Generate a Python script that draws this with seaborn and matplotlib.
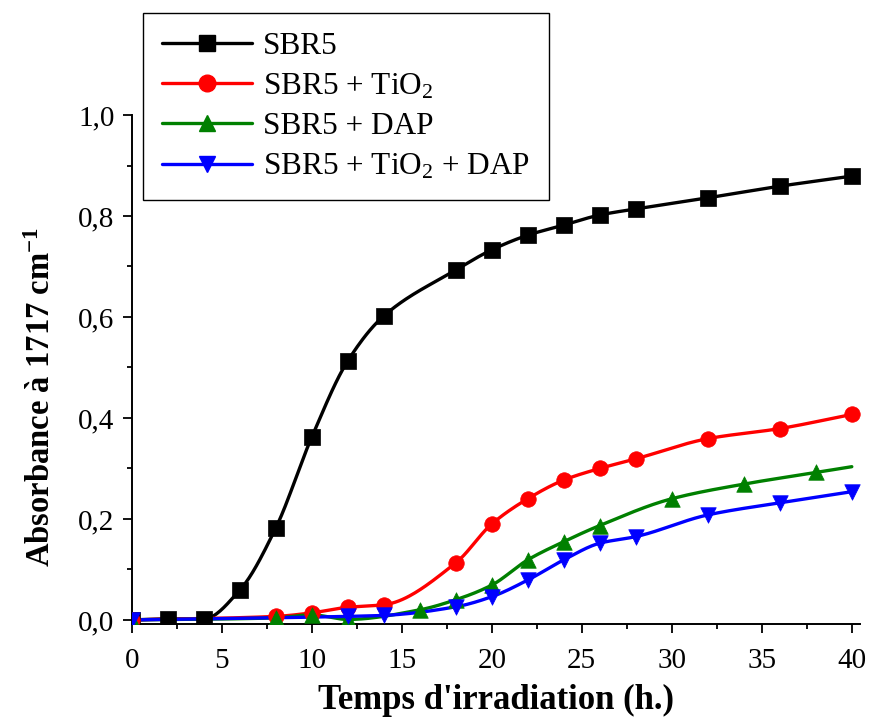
import numpy as np
import pandas as pd
import matplotlib
matplotlib.use("Agg")
import matplotlib.pyplot as plt
from matplotlib.lines import Line2D
import seaborn as sns

# ---------------- data ----------------
x_sbr5 = [0, 2, 4, 6, 8, 10, 12, 14, 18, 20, 22, 24, 26, 28, 32, 36, 40]
y_sbr5 = [0.0, 0.002, 0.002, 0.059, 0.182, 0.362, 0.513, 0.602, 0.693, 0.733,
          0.762, 0.782, 0.802, 0.814, 0.836, 0.859, 0.879]

x_tio2 = [0, 8, 10, 12, 14, 18, 20, 22, 24, 26, 28, 32, 36, 40]
y_tio2 = [0.0, 0.007, 0.014, 0.025, 0.030, 0.113, 0.190, 0.240, 0.277, 0.300,
          0.319, 0.359, 0.379, 0.407]

x_dap = [0, 8, 10, 12, 16, 18, 20, 22, 24, 26, 30, 34, 38]
y_dap = [0.0, 0.004, 0.010, 0.001, 0.020, 0.040, 0.069, 0.119, 0.155, 0.187,
         0.240, 0.269, 0.292]

x_both = [0, 12, 14, 18, 20, 22, 24, 26, 28, 32, 36, 40]
y_both = [0.0, 0.007, 0.009, 0.026, 0.046, 0.079, 0.119, 0.152, 0.165, 0.208,
          0.232, 0.254]

labels = ["SBR5", "SBR5 + TiO$_2$", "SBR5 + DAP", "SBR5 + TiO$_2$ + DAP"]
colors = ["#000000", "#ff0000", "#008000", "#0000ff"]
markers = ["s", "o", "^", "v"]
x_ticks = [0, 5, 10, 15, 20, 25, 30, 35, 40]
y_ticks = [0.0, 0.2, 0.4, 0.6, 0.8, 1.0]

series = [(x_sbr5, y_sbr5), (x_tio2, y_tio2), (x_dap, y_dap), (x_both, y_both)]


def smooth(x, y, x_end=40.0, n=400):
    """Monotone cubic (PCHIP) curve through the data, extended linearly to x_end."""
    x = np.asarray(x, float)
    y = np.asarray(y, float)
    h = np.diff(x)
    d = np.diff(y) / h
    m = np.zeros_like(y)
    for k in range(1, len(x) - 1):
        if d[k - 1] * d[k] <= 0:
            m[k] = 0.0
        else:
            w1 = 2 * h[k] + h[k - 1]
            w2 = h[k] + 2 * h[k - 1]
            m[k] = (w1 + w2) / (w1 / d[k - 1] + w2 / d[k])
    m[0] = d[0]
    m[-1] = d[-1]
    xs = np.linspace(x[0], x[-1], n)
    idx = np.clip(np.searchsorted(x, xs) - 1, 0, len(x) - 2)
    t = (xs - x[idx]) / h[idx]
    h00 = 2 * t**3 - 3 * t**2 + 1
    h10 = t**3 - 2 * t**2 + t
    h01 = -2 * t**3 + 3 * t**2
    h11 = t**3 - t**2
    ys = h00 * y[idx] + h10 * h[idx] * m[idx] + h01 * y[idx + 1] + h11 * h[idx] * m[idx + 1]
    if x[-1] < x_end:
        xe = np.linspace(x[-1], x_end, 20)[1:]
        xs = np.concatenate([xs, xe])
        ys = np.concatenate([ys, y[-1] + m[-1] * (xe - x[-1])])
    return xs, ys


# ---------------- style ----------------
sns.set_style("ticks")
plt.rcParams["font.family"] = ["Liberation Serif", "DejaVu Serif"]
plt.rcParams["mathtext.fontset"] = "custom"
plt.rcParams["mathtext.rm"] = "Liberation Serif"
plt.rcParams["mathtext.it"] = "Liberation Serif:italic"
plt.rcParams["mathtext.bf"] = "Liberation Serif:bold"
plt.rcParams["text.color"] = "black"
plt.rcParams["axes.labelcolor"] = "black"
plt.rcParams["xtick.color"] = "black"
plt.rcParams["ytick.color"] = "black"

fig = plt.figure(figsize=(8.73, 7.28), dpi=100)
ax = fig.add_axes([0.1509, 0.1429, 0.985 - 0.1509, 0.842 - 0.1429])

handles = []
for (xv, yv), lab, col, mk in zip(series, labels, colors, markers):
    xs, ys = smooth(xv, yv)
    sns.lineplot(x=xs, y=ys, ax=ax, color=col, linewidth=2.4, estimator=None,
                 sort=False, legend=False)
    df = pd.DataFrame({"x": xv, "y": yv})
    sns.scatterplot(data=df, x="x", y="y", ax=ax, color=col, marker=mk, s=125,
                    edgecolor=col, linewidth=0.5, legend=False, zorder=3)
    handles.append(Line2D([], [], color=col, lw=2.4, marker=mk, markersize=12,
                          markeredgecolor=col, label=lab))

ax.set_xlim(0, 40.45)
ax.set_ylim(-0.008, 1.0)
ax.set_xticks(x_ticks)
ax.set_yticks(y_ticks)
ax.set_xticks(np.arange(2.5, 40, 5), minor=True)
ax.set_yticks(np.arange(0.1, 1.0, 0.2), minor=True)
ax.set_xticklabels([str(v) for v in x_ticks])
ax.set_yticklabels([f"{v:.1f}".replace(".", ",") for v in y_ticks])
ax.tick_params(axis="both", which="major", direction="out", length=6.5, width=1.3,
               labelsize=21, color="black", labelcolor="black")
ax.tick_params(axis="x", which="major", pad=11)
ax.tick_params(axis="y", which="major", pad=6)
ax.tick_params(axis="both", which="minor", direction="out", length=3.6, width=1.3,
               color="black")
for s in ["top", "right"]:
    ax.spines[s].set_visible(False)
for s in ["left", "bottom"]:
    ax.spines[s].set_linewidth(1.4)
    ax.spines[s].set_color("black")

ax.set_xlabel("Temps d'irradiation (h.)", fontsize=25, fontweight="bold", labelpad=7)
ax.set_ylabel("Absorbance à 1717 cm$^{\\mathbf{-1}}$", fontsize=23.5, fontweight="bold")
ax.yaxis.set_label_coords(-0.103, 0.446)

leg = fig.legend(handles=handles, loc="upper left", bbox_to_anchor=(0.1638, 0.982),
                 bbox_transform=fig.transFigure, borderaxespad=0, frameon=True,
                 fancybox=False, edgecolor="black", framealpha=1, fontsize=22.5,
                 handlelength=2.9, handletextpad=0.35, borderpad=0.6,
                 labelspacing=0.35)
leg.get_frame().set_linewidth(1.0)

fig.savefig("out.png", dpi=100)
